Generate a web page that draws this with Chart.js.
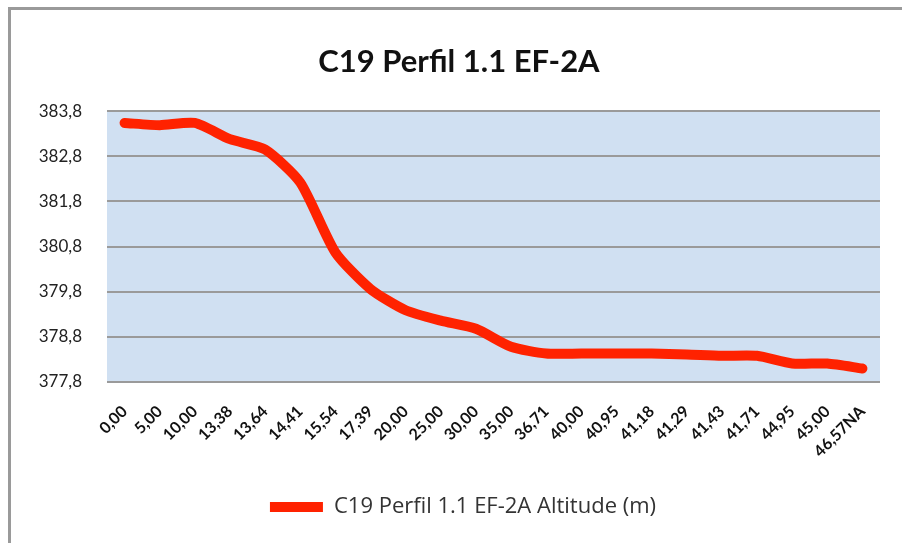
<!DOCTYPE html>
<html>
<head>
<meta charset="utf-8">
<script src="https://cdn.jsdelivr.net/npm/chart.js@4"></script>
<style>
  html, body { margin: 0; padding: 0; background: #fff; }
  #wrap { width: 902px; height: 543px; position: relative; }
</style>
</head>
<body>
<div id="wrap"><canvas id="perfil" width="902" height="543"></canvas></div>
<script>
// distances (x axis categories)
const distancias = ['0,00', '5,00', '10,00', '13,38', '13,64', '14,41', '15,54', '17,39', '20,00', '25,00', '30,00',
  '35,00', '36,71', '40,00', '40,95', '41,18', '41,29', '41,43', '41,71', '44,95', '45,00', '46,57NA'];

// altitude (m)
const altitude = [383.54, 383.49, 383.54, 383.18, 382.95, 382.22, 380.67, 379.86, 379.39, 379.16, 378.98,
  378.58, 378.43, 378.43, 378.43, 378.43, 378.41, 378.38, 378.38, 378.21, 378.21, 378.10];

const yTicks = [377.8, 378.8, 379.8, 380.8, 381.8, 382.8, 383.8];

const fonte = 'Lato, "Open Sans", sans-serif';

// plot background + outer frame
const fundo = {
  id: 'fundo',
  afterLayout(chart) {
    // title and legend sit a bit right of the canvas centre in the original
    chart.titleBlock.left += 19; chart.titleBlock.right += 19;
    chart.legend.left += 23; chart.legend.right += 23;
  },
  beforeDraw(chart) {
    const { ctx, chartArea: a } = chart;
    ctx.save();
    ctx.fillStyle = '#d0e0f2';
    ctx.fillRect(a.left, a.top, a.right - a.left, a.bottom - a.top);
    ctx.restore();
  },
  afterDraw(chart) {
    const ctx = chart.ctx;
    ctx.save();
    ctx.strokeStyle = '#9a9a9a';
    ctx.lineWidth = 3;
    ctx.beginPath();
    ctx.moveTo(9.5, 543);
    ctx.lineTo(9.5, 8.5);
    ctx.lineTo(902, 8.5);
    ctx.stroke();
    ctx.restore();
  }
};

const ctx = document.getElementById('perfil');

new Chart(ctx, {
  type: 'line',
  data: {
    labels: distancias,
    datasets: [{
      label: 'C19 Perfil 1.1 EF-2A Altitude (m)',
      data: altitude,
      borderColor: '#ff2200',
      backgroundColor: '#ff2200',
      borderWidth: 10,
      borderCapStyle: 'round',
      borderJoinStyle: 'round',
      pointRadius: 0,
      pointStyle: 'line',
      tension: 0.22
    }]
  },
  options: {
    responsive: false,
    animation: false,
    layout: { padding: { left: 0, right: 22, top: 0, bottom: 15 } },
    plugins: {
      title: {
        display: true,
        text: 'C19 Perfil 1.1 EF-2A',
        color: '#111',
        font: { family: fonte, size: 31, weight: 'bold' },
        padding: { top: 43, bottom: 31 }
      },
      legend: {
        position: 'bottom',
        labels: {
          usePointStyle: true,
          pointStyleWidth: 53,
          color: '#333',
          font: { family: '"Open Sans", sans-serif', size: 22 },
          padding: 9
        }
      },
      tooltip: { enabled: false }
    },
    scales: {
      y: {
        min: 377.8,
        max: 383.8,
        afterBuildTicks(scale) {
          scale.ticks = yTicks.map(v => ({ value: v }));
        },
        afterFit(scale) { scale.width = 107; },
        border: { display: false },
        grid: { color: '#9a9a9a', lineWidth: 2, drawTicks: false },
        ticks: {
          padding: 25,
          color: '#222',
          font: { family: fonte, size: 17 },
          callback: v => v.toFixed(1).replace('.', ',')
        }
      },
      x: {
        offset: true,
        afterFit(scale) { scale.height = 105; },
        border: { display: false },
        grid: { display: false, offset: true },
        ticks: {
          maxRotation: 45,
          minRotation: 45,
          autoSkip: false,
          padding: 12,
          color: '#111',
          font: { family: fonte, size: 16, weight: 'bold' }
        }
      }
    }
  },
  plugins: [fundo]
});
</script>
</body>
</html>
